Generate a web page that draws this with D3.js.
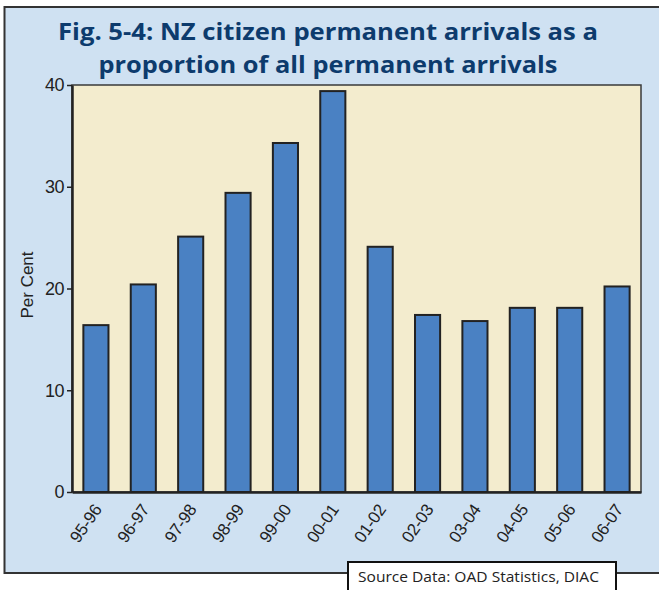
<!DOCTYPE html>
<html>
<head>
<meta charset="utf-8">
<script src="https://cdn.jsdelivr.net/npm/d3@7"></script>
<style>
  body { margin: 0; background: #fff; }
  svg { display: block; }
</style>
</head>
<body>
<svg id="chart"></svg>
<script>
// data
var years = ["95-96", "96-97", "97-98", "98-99", "99-00", "00-01", "01-02", "02-03", "03-04", "04-05", "05-06", "06-07"];
var perCent = [16.4, 20.4, 25.1, 29.4, 34.3, 39.4, 24.1, 17.4, 16.8, 18.1, 18.1, 20.2];
var yTicks = [0, 10, 20, 30, 40];
var titleLines = ["Fig. 5-4: NZ citizen permanent arrivals as a", "proportion of all permanent arrivals"];
var sourceText = "Source Data: OAD Statistics, DIAC";

var width = 659, height = 590;
var plot = { left: 72, top: 85, right: 641, bottom: 492 };

var svg = d3.select("#chart")
  .attr("width", width)
  .attr("height", height);

// outer panel
svg.append("rect")
  .attr("x", 4.5)
  .attr("y", 7)
  .attr("width", 660)
  .attr("height", 566)
  .attr("fill", "#cfe1f2")
  .attr("stroke", "#333")
  .attr("stroke-width", 2);

// title
var title = svg.append("g")
  .attr("fill", "#0d3b6d")
  .style("font-family", "'Open Sans', sans-serif")
  .style("font-weight", "bold")
  .style("font-size", "23px")
  .attr("text-anchor", "middle");

title.selectAll("text")
  .data(titleLines)
  .enter()
  .append("text")
  .attr("x", 328)
  .attr("y", (d, i) => 39.5 + i * 33)
  .attr("textLength", (d, i) => i === 0 ? 540 : 459)
  .attr("lengthAdjust", "spacingAndGlyphs")
  .text(d => d);

var x = d3.scaleBand()
  .domain(years)
  .range([plot.left, plot.right])
  .paddingInner(0.47)
  .paddingOuter(0.24);

var y = d3.scaleLinear()
  .domain([0, 40])
  .range([plot.bottom, plot.top]);

// plot background
svg.append("rect")
  .attr("x", plot.left)
  .attr("y", plot.top)
  .attr("width", plot.right - plot.left)
  .attr("height", plot.bottom - plot.top)
  .attr("fill", "#f3ecce")
  .attr("stroke", "#3a3a3a")
  .attr("stroke-width", 1.5);

// bars
svg.append("g")
  .selectAll("rect")
  .data(perCent)
  .enter()
  .append("rect")
  .attr("x", (d, i) => x(years[i]))
  .attr("y", d => y(d))
  .attr("width", x.bandwidth())
  .attr("height", d => y(0) - y(d))
  .attr("fill", "#4a81c3")
  .attr("stroke", "#222")
  .attr("stroke-width", 2);

// y axis
var yAxis = svg.append("g")
  .attr("transform", "translate(" + plot.left + ",0)")
  .call(d3.axisLeft(y).tickValues(yTicks).tickSize(5).tickPadding(3).tickSizeOuter(0));

yAxis.select(".domain").attr("stroke", "#222").attr("stroke-width", 2.5);
yAxis.selectAll(".tick line").attr("stroke", "#222").attr("stroke-width", 1.5);
yAxis.selectAll(".tick text")
  .attr("fill", "#222")
  .style("font-family", "'Liberation Sans', Arial, sans-serif")
  .style("font-size", "18px")
  .style("letter-spacing", "-0.5px");

// x axis
var xAxis = svg.append("g")
  .attr("transform", "translate(0," + plot.bottom + ")")
  .call(d3.axisBottom(x).tickSize(0).tickSizeOuter(0));

xAxis.select(".domain").attr("stroke", "#222").attr("stroke-width", 2.5);
xAxis.selectAll(".tick text")
  .attr("fill", "#222")
  .style("font-family", "'Liberation Sans', Arial, sans-serif")
  .style("font-size", "17px")
  .style("letter-spacing", "-0.3px")
  .attr("text-anchor", "end")
  .attr("dy", null)
  .attr("transform", "translate(3,15) rotate(-55)")
  .attr("y", 0)
  .attr("x", 0)
  .attr("dominant-baseline", "middle");

// y label
svg.append("text")
  .attr("transform", "translate(33,285) rotate(-90)")
  .attr("text-anchor", "middle")
  .attr("fill", "#222")
  .style("font-family", "'Liberation Sans', Arial, sans-serif")
  .style("font-size", "17px")
  .text("Per Cent");

// source box
svg.append("rect")
  .attr("x", 348)
  .attr("y", 562)
  .attr("width", 268)
  .attr("height", 40)
  .attr("fill", "#fff")
  .attr("stroke", "#111")
  .attr("stroke-width", 2);

svg.append("text")
  .attr("x", 358)
  .attr("y", 582)
  .attr("fill", "#222")
  .style("font-family", "'Open Sans', sans-serif")
  .style("font-size", "14.5px")
  .attr("textLength", 241)
  .attr("lengthAdjust", "spacingAndGlyphs")
  .text(sourceText);
</script>
</body>
</html>
